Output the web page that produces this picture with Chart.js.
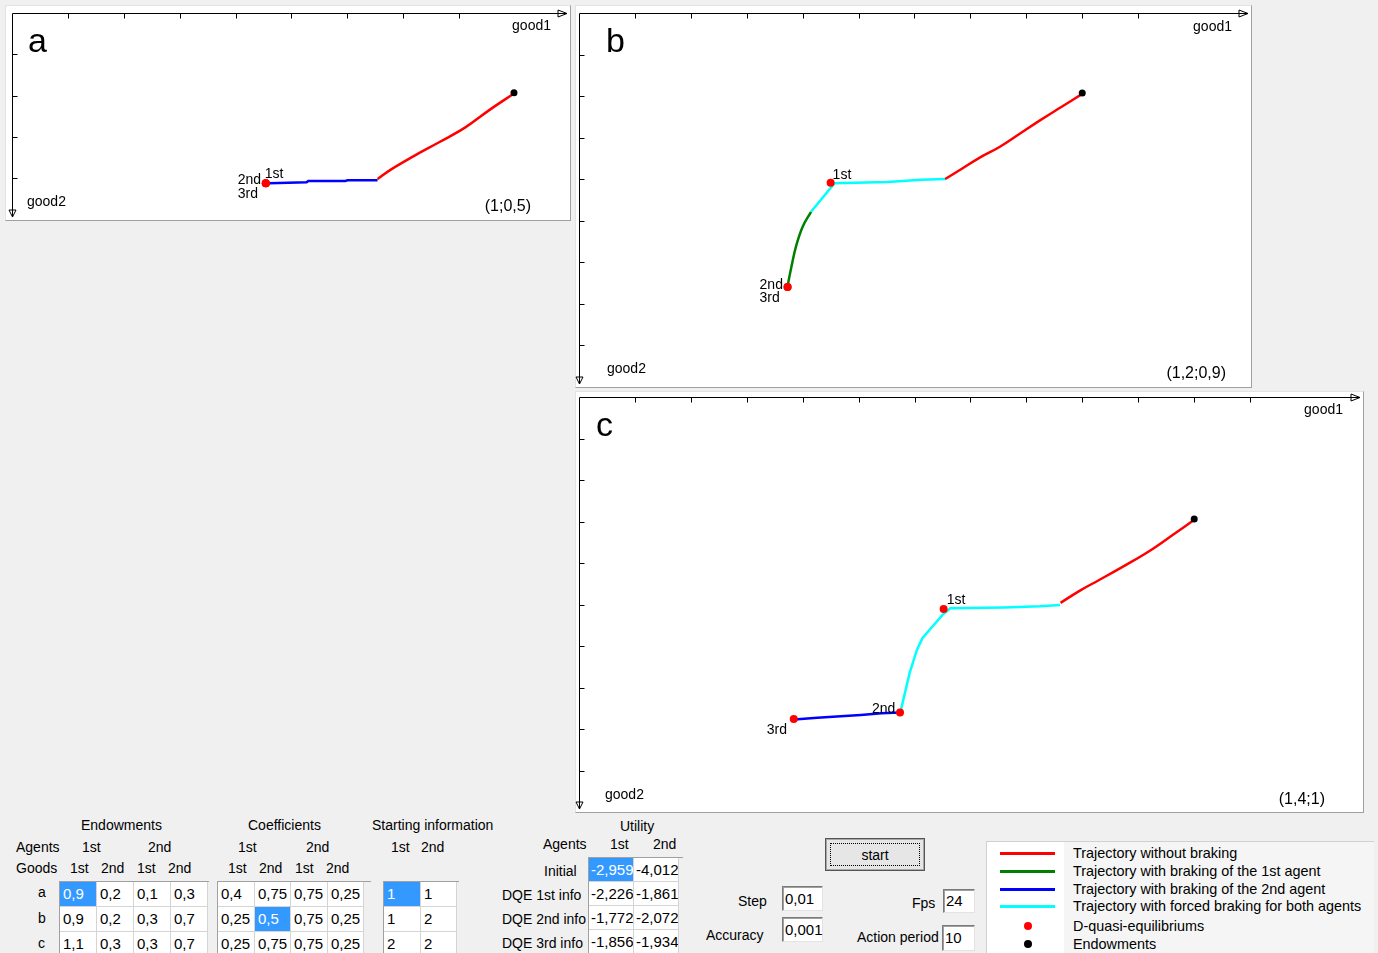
<!DOCTYPE html>
<html>
<head>
<meta charset="utf-8">
<script src="https://cdn.jsdelivr.net/npm/chart.js@4.4.1/dist/chart.umd.min.js"></script>
<style>
  body { margin: 0; width: 1378px; height: 953px; overflow: hidden; position: relative;
         background: #f0f0f0; font-family: "Liberation Sans", Arial, sans-serif; font-size: 14px; color: #000; }
  .panel { position: absolute; background: #fff; box-sizing: border-box;
           border-top: 1px solid #e3e3e3; border-left: 1px solid #e3e3e3;
           border-right: 1px solid #a0a0a0; border-bottom: 1px solid #a0a0a0; }
  canvas.plot { position: absolute; }
  .t { position: absolute; white-space: nowrap; line-height: 16px; }
  .grid { position: absolute; box-sizing: border-box; background: #f0f0f0;
          border-top: 1px solid #a0a0a0; border-left: 1px solid #a0a0a0; overflow: hidden; }
  .cell { position: absolute; box-sizing: border-box; background: #fff; overflow: hidden; white-space: nowrap;
          border-right: 1px solid #d4d4d4; border-bottom: 1px solid #d4d4d4; font-size: 15px; padding-left: 3px; }
  .cell.sel { background: #3399ff; color: #fff; }
  .btn { position: absolute; left: 825px; top: 838px; width: 100px; height: 33px; box-sizing: border-box;
         border: 1px solid #555; box-shadow: inset 0 0 0 1px #a8a8a8; background: #e6e6e6; }
  .btn .focus { position: absolute; left: 4px; top: 4px; right: 4px; bottom: 4px; border: 1px dotted #000;
                text-align: center; line-height: 23px; }
  .inp { position: absolute; box-sizing: border-box; background: #fff; font-size: 15px; padding-left: 2px;
         border: 1px solid; border-color: #7a7a7a #e3e3e3 #e3e3e3 #7a7a7a; box-shadow: inset 1px 1px 0 #a0a0a0; }
  .legend { position: absolute; left: 986px; top: 841px; width: 388px; height: 120px; box-sizing: border-box;
            border-top: 1px solid #d0d0d0; border-left: 1px solid #d0d0d0; background: #f5f5f5; }
  .legend .img { position: absolute; left: 0; top: 0; width: 77px; height: 120px; background: #fff; }
  .legend .t { font-size: 14.4px; }
</style>
</head>
<body>

<div class="t" style="left:81px; top:817px;">Endowments</div>
<div class="t" style="left:248px; top:817px;">Coefficients</div>
<div class="t" style="left:372px; top:817px;">Starting information</div>
<div class="t" style="left:620px; top:818px;">Utility</div>

<div class="t" style="left:16px; top:839px;">Agents</div>
<div class="t" style="left:82px; top:839px;">1st</div>
<div class="t" style="left:148px; top:839px;">2nd</div>
<div class="t" style="left:16px; top:860px;">Goods</div>
<div class="t" style="left:70px; top:860px;">1st</div>
<div class="t" style="left:101px; top:860px;">2nd</div>
<div class="t" style="left:137px; top:860px;">1st</div>
<div class="t" style="left:168px; top:860px;">2nd</div>

<div class="t" style="left:238px; top:839px;">1st</div>
<div class="t" style="left:306px; top:839px;">2nd</div>
<div class="t" style="left:228px; top:860px;">1st</div>
<div class="t" style="left:259px; top:860px;">2nd</div>
<div class="t" style="left:295px; top:860px;">1st</div>
<div class="t" style="left:326px; top:860px;">2nd</div>

<div class="t" style="left:391px; top:839px;">1st</div>
<div class="t" style="left:421px; top:839px;">2nd</div>

<div class="t" style="left:543px; top:836px;">Agents</div>
<div class="t" style="left:610px; top:836px;">1st</div>
<div class="t" style="left:653px; top:836px;">2nd</div>

<div class="btn"><div class="focus">start</div></div>

<div class="t" style="left:738px; top:893px;">Step</div>
<div class="inp" style="left:782px; top:886px; width:41px; height:25px; line-height:23px;">0,01</div>
<div class="t" style="left:706px; top:927px;">Accuracy</div>
<div class="inp" style="left:782px; top:917px; width:41px; height:25px; line-height:23px;">0,001</div>
<div class="t" style="left:912px; top:895px;">Fps</div>
<div class="inp" style="left:943px; top:889px; width:32px; height:24px; line-height:22px;">24</div>
<div class="t" style="left:857px; top:929px;">Action period</div>
<div class="inp" style="left:942px; top:925px; width:33px; height:26px; line-height:24px;">10</div>

<div class="legend" id="legend"><div class="img"></div></div>

<script>
// trajectories (x = good1, y = good2 of the 1st agent)
const aEndow = [[0.898, 0.193]];
const aDqe = [[0.454, 0.412], [0.454, 0.412], [0.454, 0.412]];
const aRed = [[0.898, 0.195], [0.855, 0.234], [0.811, 0.277], [0.764, 0.313], [0.718, 0.347], [0.679, 0.378], [0.654, 0.402]];
const aBlue = [[0.654, 0.405], [0.600, 0.405], [0.596, 0.407], [0.530, 0.407], [0.527, 0.410], [0.460, 0.412]];

const bEndow = [[0.900, 0.193]];
const bDqe = [[0.450, 0.409], [0.373, 0.660], [0.373, 0.660]];
const bRed = [[0.900, 0.195], [0.8625, 0.2265], [0.823, 0.260], [0.7875, 0.2916], [0.752, 0.323], [0.716, 0.349], [0.684, 0.376], [0.655, 0.400]];
const bCyan = [[0.656, 0.400], [0.612, 0.402], [0.552, 0.407], [0.457, 0.410], [0.415, 0.479]];
const bGreen = [[0.415, 0.479], [0.400, 0.515], [0.388, 0.563], [0.380, 0.611], [0.374, 0.651]];

const cEndow = [[1.100, 0.294]];
const cDqe = [[0.652, 0.511], [0.574, 0.760], [0.384, 0.776]];
const cRed = [[1.100, 0.296], [1.064, 0.330], [1.020, 0.371], [0.975, 0.407], [0.930, 0.441], [0.895, 0.467], [0.861, 0.496]];
const cCyan = [[0.860, 0.501], [0.824, 0.504], [0.760, 0.507], [0.664, 0.509], [0.650, 0.525], [0.632, 0.553], [0.614, 0.581],
               [0.604, 0.610], [0.591, 0.666], [0.577, 0.746], [0.574, 0.760]];
const cBlue = [[0.574, 0.760], [0.541, 0.762], [0.504, 0.766], [0.468, 0.769], [0.426, 0.773], [0.385, 0.777]];

const dqeNames = ["1st", "2nd", "3rd"];
const boxSizes = ["(1;0,5)", "(1,2;0,9)", "(1,4;1)"];

// tables
const rowNames = ["a", "b", "c"];
const endowments = [["0,9", "0,2", "0,1", "0,3"], ["0,9", "0,2", "0,3", "0,7"], ["1,1", "0,3", "0,3", "0,7"]];
const coefficients = [["0,4", "0,75", "0,75", "0,25"], ["0,25", "0,5", "0,75", "0,25"], ["0,25", "0,75", "0,75", "0,25"]];
const startInfo = [["1", "1"], ["1", "2"], ["2", "2"]];
const utilityRows = ["Initial", "DQE 1st info", "DQE 2nd info", "DQE 3rd info"];
const utility = [["-2,959", "-4,012"], ["-2,226", "-1,861"], ["-1,772", "-2,072"], ["-1,856", "-1,934"]];

const legendNames = ["Trajectory without braking", "Trajectory with braking of the 1st agent",
  "Trajectory with braking of the 2nd agent", "Trajectory with forced braking for both agents",
  "D-quasi-equilibriums", "Endowments"];

const RED = "#ff0000", GREEN = "#008000", BLUE = "#0000ff", CYAN = "#00ffff";
const PX_X = 560, PX_Y = 415; // pixels per unit of good

const FONT = '"Liberation Sans", Arial, sans-serif';

function pts(arr) {
  return arr.map(p => ({ x: p[0], y: p[1] }));
}

function edgeAxes(p) {
  return {
    id: "edgeAxes",
    beforeDatasetsDraw(chart) {
      const ctx = chart.ctx;
      const ca = chart.chartArea;
      const L = Math.round(ca.left) + 0.5, T = Math.round(ca.top) + 0.5;
      const R = Math.round(ca.right), B = Math.round(ca.bottom);
      ctx.save();
      ctx.strokeStyle = "#000";
      ctx.lineWidth = 1;
      ctx.beginPath();
      ctx.moveTo(L, T); ctx.lineTo(R, T);
      ctx.moveTo(L, T); ctx.lineTo(L, B);
      const onStep = v => v > 0 && Math.abs(v * 10 - Math.round(v * 10)) < 1e-6;
      chart.scales.x.ticks.forEach(t => {
        if (!onStep(t.value)) return;
        const px = Math.round(chart.scales.x.getPixelForValue(t.value)) + 0.5;
        if (px > R - 8) return;
        ctx.moveTo(px, T); ctx.lineTo(px, T + 5);
      });
      chart.scales.y.ticks.forEach(t => {
        if (!onStep(t.value)) return;
        const py = Math.round(chart.scales.y.getPixelForValue(t.value)) + 0.5;
        if (py > B - 8) return;
        ctx.moveTo(L, py); ctx.lineTo(L + 5, py);
      });
      ctx.stroke();
      ctx.beginPath();
      ctx.moveTo(R - 9, T - 3.5); ctx.lineTo(R, T); ctx.lineTo(R - 9, T + 3.5); ctx.closePath();
      ctx.moveTo(L - 3.5, B - 7); ctx.lineTo(L, B); ctx.lineTo(L + 3.5, B - 7); ctx.closePath();
      ctx.stroke();
      ctx.restore();
    },
    afterDraw(chart) {
      const ctx = chart.ctx;
      ctx.save();
      ctx.fillStyle = "#000";
      ctx.textBaseline = "alphabetic";
      ctx.font = "34px " + FONT;
      ctx.fillText(p.letter, p.letterX - p.left, p.letterY - p.top);
      ctx.textBaseline = "middle";
      ctx.font = "14px " + FONT;
      ctx.textAlign = "right";
      ctx.fillText("good1", p.g1R - p.left, p.g1Y - p.top);
      ctx.textAlign = "left";
      ctx.fillText("good2", p.g2X - p.left, p.g2Y - p.top);
      ctx.font = "16px " + FONT;
      ctx.textAlign = "right";
      ctx.fillText(p.size, p.szR - p.left, p.szY - p.top);
      ctx.font = "14px " + FONT;
      ctx.textAlign = "left";
      const meta = chart.getDatasetMeta(1);
      meta.data.forEach((el, i) => {
        const off = p.dqeOff[i];
        ctx.fillText(dqeNames[i], el.x + off[0], el.y + off[1]);
      });
      ctx.restore();
    }
  };
}

function makePanel(p) {
  const box = document.createElement("div");
  box.className = "panel";
  box.style.left = p.left + "px";
  box.style.top = p.top + "px";
  box.style.width = p.w + "px";
  box.style.height = p.h + "px";
  document.body.appendChild(box);

  const cv = document.createElement("canvas");
  cv.className = "plot";
  cv.width = p.w;
  cv.height = p.h;
  cv.style.left = p.left + "px";
  cv.style.top = p.top + "px";
  cv.style.width = p.w + "px";
  cv.style.height = p.h + "px";
  document.body.appendChild(cv);

  const xmax = (p.tx - p.ox) / PX_X;
  const ymax = (p.ty - p.oy) / PX_Y;

  const datasets = [
    { data: pts(p.endow), showLine: false, pointRadius: 3.5, pointBackgroundColor: "#000", pointBorderWidth: 0 },
    { data: pts(p.dqe), showLine: false, pointRadius: 4, pointBackgroundColor: RED, pointBorderWidth: 0 }
  ];
  p.lines.forEach(l => {
    datasets.push({ data: pts(l.data), showLine: true, borderColor: l.color, borderWidth: 2.5,
      pointRadius: 0, tension: l.smooth || 0, fill: false });
  });

  new Chart(cv, {
    type: "scatter",
    data: { datasets: datasets },
    options: {
      responsive: false,
      animation: false,
      devicePixelRatio: 1,
      events: [],
      layout: {
        padding: { left: p.ox - p.left, top: p.oy - p.top, right: p.left + p.w - p.tx, bottom: p.top + p.h - p.ty }
      },
      scales: {
        x: { type: "linear", min: 0, max: xmax, display: false, ticks: { stepSize: 0.1 } },
        y: { type: "linear", min: 0, max: ymax, reverse: true, display: false, ticks: { stepSize: 0.1 } }
      },
      plugins: { legend: { display: false }, tooltip: { enabled: false } }
    },
    plugins: [edgeAxes(p)]
  });
}

makePanel({
  left: 5, top: 5, w: 566, h: 216, ox: 12, oy: 13, tx: 568, ty: 218,
  letter: "a", letterX: 28, letterY: 52, g1R: 551, g1Y: 26, g2X: 27, g2Y: 202, szR: 531, szY: 207, size: boxSizes[0],
  endow: aEndow, dqe: aDqe, dqeOff: [[-1, -9], [-28, -3], [-28, 11]],
  lines: [{ data: aRed, color: RED, smooth: 0.4 }, { data: aBlue, color: BLUE }]
});

makePanel({
  left: 575, top: 5, w: 677, h: 383, ox: 579, oy: 13, tx: 1249, ty: 384,
  letter: "b", letterX: 606, letterY: 52, g1R: 1232, g1Y: 27, g2X: 607, g2Y: 369, szR: 1226, szY: 374, size: boxSizes[1],
  endow: bEndow, dqe: bDqe, dqeOff: [[2, -8], [-28, -2], [-28, 11]],
  lines: [{ data: bRed, color: RED, smooth: 0.4 }, { data: bCyan, color: CYAN }, { data: bGreen, color: GREEN, smooth: 0.4 }]
});

makePanel({
  left: 575, top: 391, w: 789, h: 422, ox: 579, oy: 397, tx: 1361, ty: 809,
  letter: "c", letterX: 596, letterY: 436, g1R: 1343, g1Y: 410, g2X: 605, g2Y: 795, szR: 1325, szY: 800, size: boxSizes[2],
  endow: cEndow, dqe: cDqe, dqeOff: [[3, -9], [-28, -3], [-27, 11]],
  lines: [{ data: cRed, color: RED, smooth: 0.4 }, { data: cCyan, color: CYAN }, { data: cBlue, color: BLUE }]
});

// tables
function buildGrid(values, x, y, colW, rowH, outerW, outerH, sel, pad) {
  const g = document.createElement("div");
  g.className = "grid";
  g.style.left = x + "px";
  g.style.top = y + "px";
  g.style.width = outerW + "px";
  g.style.height = outerH + "px";
  values.forEach((row, r) => {
    row.forEach((v, c) => {
      const d = document.createElement("div");
      d.className = "cell" + (sel && sel[0] === r && sel[1] === c ? " sel" : "");
      const l = Math.round(c * colW), rr = Math.round((c + 1) * colW);
      d.style.left = l + "px";
      d.style.top = (r * rowH) + "px";
      d.style.width = (rr - l) + "px";
      d.style.height = rowH + "px";
      d.style.lineHeight = (rowH - 1) + "px";
      if (pad !== undefined) d.style.paddingLeft = pad + "px";
      d.textContent = v;
      g.appendChild(d);
    });
  });
  document.body.appendChild(g);
}

buildGrid(endowments, 59, 881, 37, 25, 150, 80, [0, 0]);
buildGrid(coefficients, 217, 881, 36.5, 25, 154, 80, [1, 1]);
buildGrid(startInfo, 383, 881, 36.5, 25, 76, 80, [0, 0]);
buildGrid(utility, 588, 857, 45, 24, 95, 100, [0, 0], 2);

const rowY = [892, 918, 943];
rowNames.forEach((n, i) => {
  const d = document.createElement("div");
  d.className = "t";
  d.style.left = "38px";
  d.style.top = (rowY[i] - 8) + "px";
  d.textContent = n;
  document.body.appendChild(d);
});

const utilLabelX = [544, 502, 502, 502];
const utilLabelY = [871, 895, 919, 943];
utilityRows.forEach((n, i) => {
  const d = document.createElement("div");
  d.className = "t";
  d.style.left = utilLabelX[i] + "px";
  d.style.top = (utilLabelY[i] - 8) + "px";
  d.textContent = n;
  document.body.appendChild(d);
});

// legend
const legend = document.getElementById("legend");
const legendY = [853, 871, 889, 906, 926, 944];
const legendMarks = [
  { type: "line", color: RED }, { type: "line", color: GREEN }, { type: "line", color: BLUE },
  { type: "line", color: CYAN }, { type: "dot", color: RED }, { type: "dot", color: "#000" }
];
legendNames.forEach((n, i) => {
  const cy = legendY[i] - 842;
  const m = document.createElement("div");
  m.style.position = "absolute";
  m.style.background = legendMarks[i].color;
  if (legendMarks[i].type === "line") {
    m.style.left = "13px"; m.style.width = "55px";
    m.style.top = (cy - 1.5) + "px"; m.style.height = "3px";
  } else {
    m.style.left = "37px"; m.style.width = "8px";
    m.style.top = (cy - 4) + "px"; m.style.height = "8px";
    m.style.borderRadius = "50%";
  }
  legend.appendChild(m);
  const t = document.createElement("div");
  t.className = "t";
  t.style.left = "86px";
  t.style.top = (cy - 8) + "px";
  t.textContent = n;
  legend.appendChild(t);
});
</script>
</body>
</html>
